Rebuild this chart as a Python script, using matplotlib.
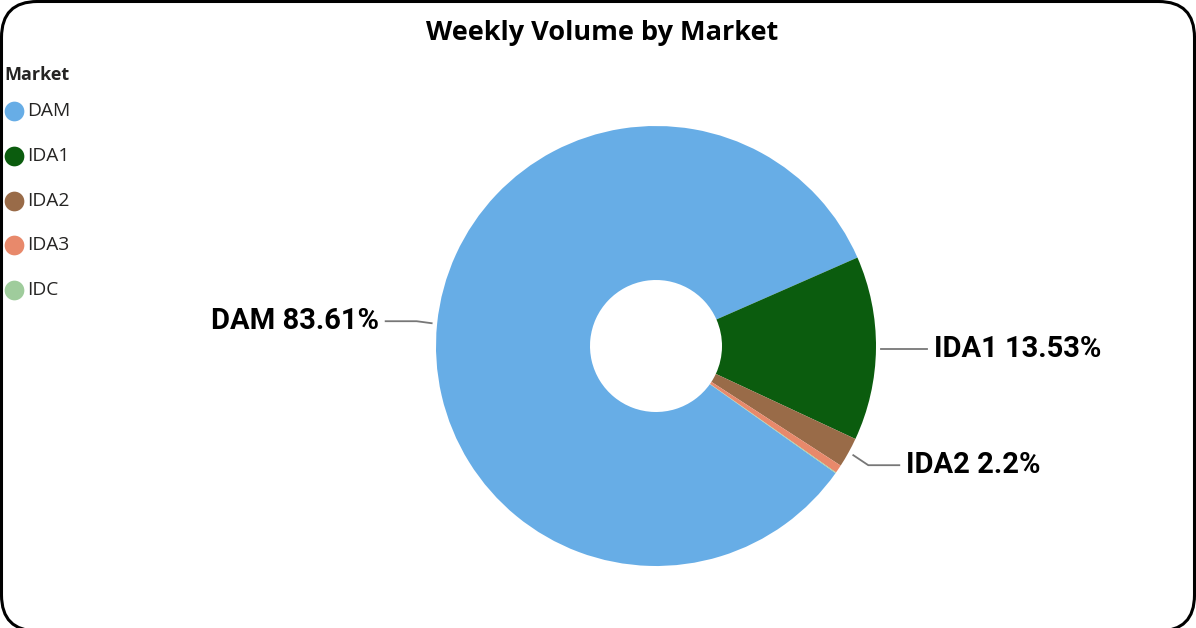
import numpy as np
import matplotlib
matplotlib.use("Agg")
import matplotlib.pyplot as plt
from matplotlib.patches import FancyBboxPatch
from matplotlib.lines import Line2D
from matplotlib import font_manager as fm

# ---- data ----
markets = ["DAM", "IDA1", "IDA2", "IDA3", "IDC"]
shares = [83.61, 13.53, 2.2, 0.60, 0.06]
colors = ["#67ADE6", "#0B5C0E", "#996B48", "#E8896B", "#9FCC9C"]
shown_labels = ["DAM 83.61%", "IDA1 13.53%", "IDA2 2.2%"]

names = {f.name for f in fm.fontManager.ttflist}
narrow = "Liberation Sans Narrow" if "Liberation Sans Narrow" in names else "Roboto"

W, H = 1196, 628
fig = plt.figure(figsize=(W / 100, H / 100), dpi=100)
fig.patch.set_facecolor("white")

frame = FancyBboxPatch((1.5, -3), W - 3, H - 1.5 + 3,
                       boxstyle="round,pad=0,rounding_size=36",
                       transform=None, facecolor="none",
                       edgecolor="black", linewidth=2.2, figure=fig)
fig.patches.append(frame)

ax = fig.add_axes([0, 0, 1, 1])
ax.set_xlim(0, W)
ax.set_ylim(0, H)
ax.set_aspect("equal")
ax.axis("off")

cx, cy, R = 656, H - 346, 220
wedges, _ = ax.pie(shares, colors=colors, radius=R, center=(cx, cy),
                   startangle=-35.3, counterclock=False,
                   wedgeprops=dict(width=R * 0.70, linewidth=0))
ax.set_xlim(0, W)
ax.set_ylim(0, H)

label_font = dict(fontsize=21, fontweight="bold", family=narrow, color="black")
y_shift = {0: 2, 1: 0, 2: -10}
for i, txt in enumerate(shown_labels):
    w = wedges[i]
    ang = np.deg2rad((w.theta1 + w.theta2) / 2)
    sx, sy = np.cos(ang), np.sin(ang)
    p0 = (cx + 1.025 * R * sx, cy + 1.025 * R * sy)
    side = 1 if sx >= 0 else -1
    yl = p0[1] + y_shift[i]
    p1 = (p0[0] + side * 15, yl)
    p2 = (p0[0] + side * 46, yl)
    ax.add_line(Line2D([p0[0], p1[0], p2[0]], [p0[1], p1[1], p2[1]],
                       color="#777777", linewidth=1.3))
    ax.text(p2[0] + side * 7, yl, txt,
            ha="left" if side > 0 else "right", va="center", **label_font)

fig.text(602 / W, 1 - 33 / H, "Weekly Volume by Market", ha="center",
         va="center", fontsize=19.5, fontweight="bold", family="Open Sans")

fig.text(4 / W, 1 - 75 / H, "Market", ha="left", va="center",
         fontsize=13, fontweight="bold", family="Open Sans", color="#252423")
for k, (m, c) in enumerate(zip(markets, colors)):
    y = 111 + k * 44.8
    ax.plot([13.5], [H - y], marker="o", markersize=14.2, color=c,
            markeredgewidth=0)
    fig.text(27 / W, 1 - y / H, m, ha="left", va="center",
             fontsize=13.8, family="Open Sans", color="#252423")

fig.savefig("out.png", dpi=100, facecolor="white")
